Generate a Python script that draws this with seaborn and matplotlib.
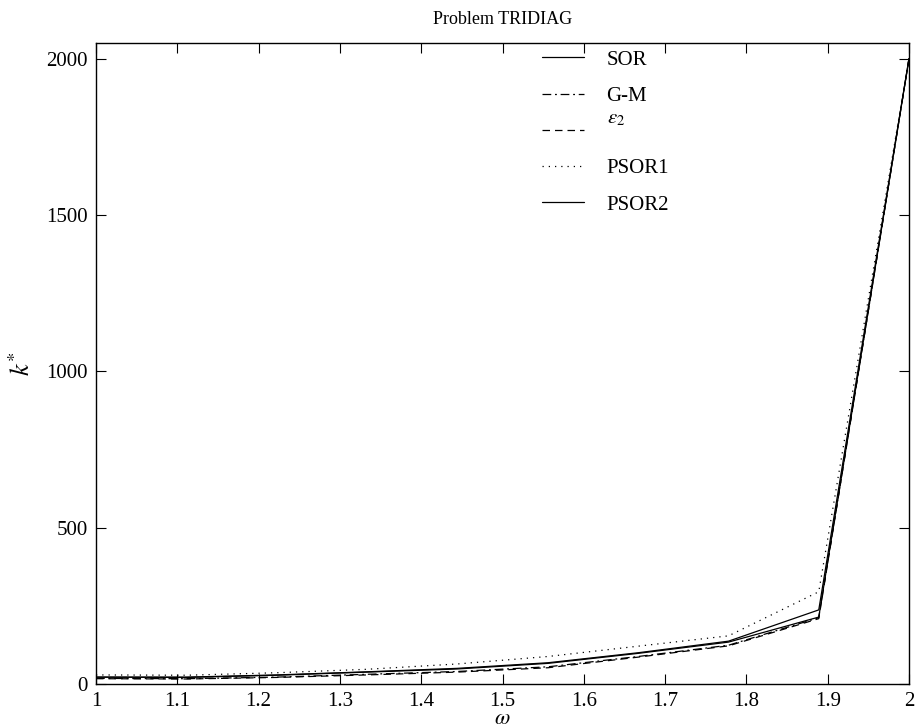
import matplotlib
matplotlib.use("Agg")
import matplotlib.pyplot as plt
import seaborn as sns
import pandas as pd
from matplotlib.ticker import FuncFormatter

omega = [1.0, 1.111, 1.222, 1.333, 1.444, 1.556, 1.667, 1.778, 1.889, 2.0]
sor = [22, 21, 28, 38, 48, 66, 98, 134, 214, 2000]
gm = [18, 17, 22, 31, 40, 55, 88, 124, 212, 2000]
eps2 = [17, 16, 21, 29, 38, 52, 86, 122, 209, 2000]
psor1 = [29, 28, 36, 47, 64, 88, 121, 154, 295, 2000]
psor2 = [22, 22, 29, 39, 50, 68, 100, 137, 237, 2000]

labels = ["SOR", "G-M", r"$\varepsilon_2$", "PSOR1", "PSOR2"]
series = [sor, gm, eps2, psor1, psor2]
styles = ["-", (0, (7, 3, 1.5, 3)), (0, (6, 4)), (0, (1, 4)), "-"]

x_ticks = [1.0, 1.1, 1.2, 1.3, 1.4, 1.5, 1.6, 1.7, 1.8, 1.9, 2.0]
y_ticks = [0, 500, 1000, 1500, 2000]

sns.set_style("ticks")
plt.rcParams["font.family"] = ["Liberation Serif", "DejaVu Serif"]
plt.rcParams["mathtext.fontset"] = "stix"
for key in ["text.color", "axes.labelcolor", "xtick.color", "ytick.color",
            "axes.edgecolor"]:
    plt.rcParams[key] = "black"

fig = plt.figure(figsize=(9.17, 7.28), dpi=100)
ax = fig.add_axes([96 / 917, 1 - 684 / 728, (909 - 96) / 917, (684 - 43) / 728])

for lab, vals, ls in zip(labels, series, styles):
    df = pd.DataFrame({"omega": omega, "k": vals})
    sns.lineplot(data=df, x="omega", y="k", ax=ax, color="black",
                 linestyle=ls, linewidth=0.9, label=lab)

ax.set_xlim(1, 2)
ax.set_ylim(0, 2050)
ax.set_xticks(x_ticks)
ax.set_yticks(y_ticks)
ax.xaxis.set_major_formatter(FuncFormatter(lambda v, p: f"{v:g}"))
ax.tick_params(direction="in", top=True, right=True, length=7, width=0.8,
               labelsize=15, pad=6, colors="black")
for s in ax.spines.values():
    s.set_linewidth(1.0)
    s.set_color("black")
    s.set_visible(True)

ax.set_title("Problem TRIDIAG", fontsize=13, pad=14, color="black")
ax.set_xlabel(r"$\omega$", fontsize=16, labelpad=-1, color="black")
ax.set_ylabel(r"$k^{*}$", fontsize=19, labelpad=8, color="black")

leg = ax.legend(loc="upper left", bbox_to_anchor=(0.5486, 0.989), frameon=False,
                fontsize=15, handlelength=2.0, handletextpad=1.1,
                borderpad=0, borderaxespad=0, labelspacing=0.8,
                labelcolor="black")
# the epsilon label sits a little above its line in the reference
leg.get_texts()[2].set_y(14)

fig.savefig("out.png", dpi=100)
